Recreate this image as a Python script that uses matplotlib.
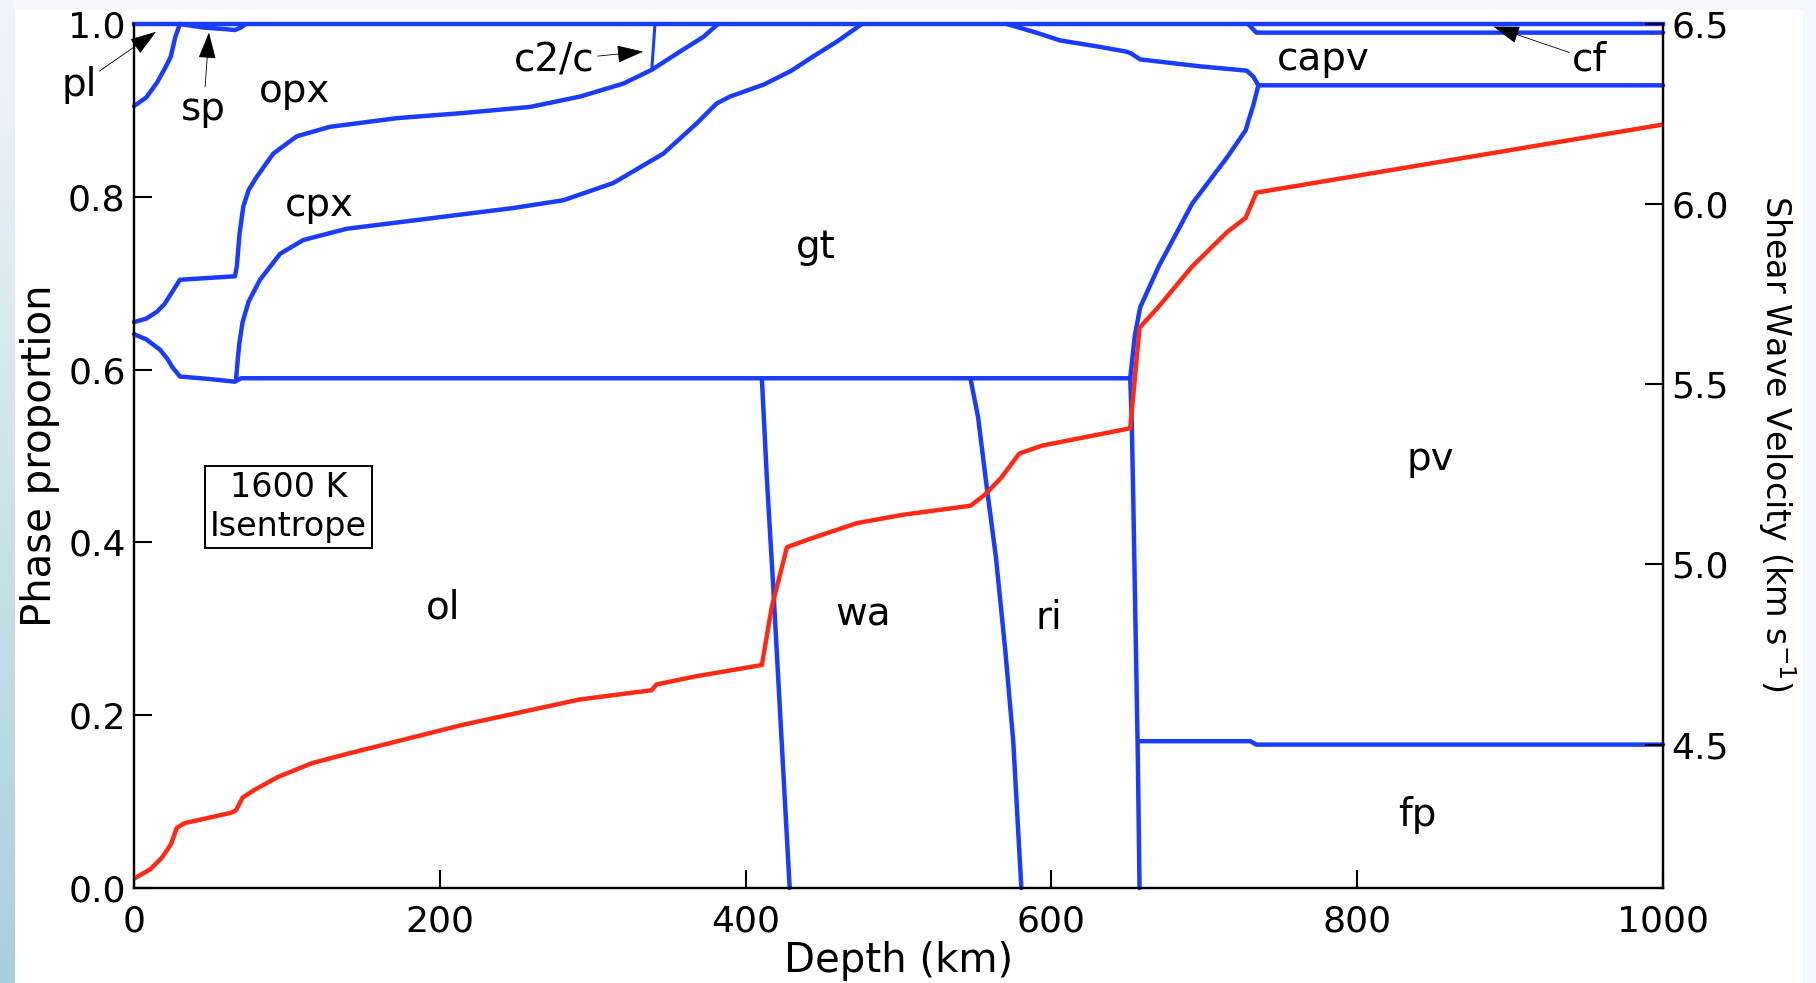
import numpy as np
import matplotlib
matplotlib.use('Agg')
import matplotlib.pyplot as plt

# phase boundaries (depth km, cumulative proportion)
pl_x = [0, 8, 15, 20, 24, 27, 30]
pl_y = [0.905, 0.915, 0.932, 0.948, 0.962, 0.985, 1.0]

sp_x = [30, 45, 60, 66, 70, 73]
sp_y = [1.0, 0.996, 0.994, 0.993, 0.996, 1.0]

opx_x = [0, 8, 15, 20, 25, 30, 66, 67.2, 69, 71.5, 75, 80.2, 91.1, 106.4, 128.2, 171.8,
         215.4, 259, 291.7, 320, 338.6, 357, 372.3, 382]
opx_y = [0.655, 0.659, 0.667, 0.676, 0.690, 0.704, 0.708, 0.719, 0.757, 0.789, 0.808,
         0.823, 0.850, 0.870, 0.881, 0.891, 0.897, 0.904, 0.916, 0.931, 0.947, 0.968,
         0.985, 1.0]

c2c_x = [340.7, 338.6]
c2c_y = [1.0, 0.947]

cpx_x = [66.7, 68, 69, 71, 75, 82.4, 95.5, 110.7, 139.1, 193.6, 248, 280.8, 313.5,
         346.2, 368, 381, 389.8, 412, 430, 442, 460, 476]
cpx_y = [0.588, 0.615, 0.632, 0.655, 0.679, 0.704, 0.734, 0.750, 0.763, 0.775, 0.787,
         0.796, 0.816, 0.850, 0.885, 0.908, 0.916, 0.930, 0.946, 0.960, 0.980, 1.0]

ol_x = [0, 8, 17, 22, 25, 30, 50, 66, 70, 200, 400, 651.5]
ol_y = [0.641, 0.635, 0.623, 0.612, 0.603, 0.592, 0.589, 0.586, 0.590, 0.590, 0.590, 0.590]

wa_x = [410.6, 414, 418, 422, 426, 428.8]
wa_y = [0.590, 0.470, 0.350, 0.220, 0.090, 0.0]

ri_x = [547, 552, 557.6, 563.6, 569.7, 575, 580.3]
ri_y = [0.590, 0.545, 0.465, 0.384, 0.277, 0.170, 0.0]

pv660_x = [651.5, 652.5, 653.5, 655, 656.5, 657.6]
pv660_y = [0.590, 0.540, 0.450, 0.300, 0.150, 0.0]

gtpv_x = [651.5, 654.5, 658, 670, 692, 715, 727, 729, 732, 735.3]
gtpv_y = [0.590, 0.639, 0.672, 0.719, 0.792, 0.846, 0.877, 0.889, 0.906, 0.929]

capv_x = [570.8, 590, 605.6, 630, 649, 652, 658, 697, 727.7, 732, 735.3, 1000]
capv_y = [1.0, 0.990, 0.981, 0.974, 0.968, 0.966, 0.959, 0.951, 0.946, 0.939, 0.929, 0.929]

cf_x = [728.6, 734, 1000]
cf_y = [1.0, 0.990, 0.990]

fp_x = [657.6, 700, 730, 734, 1000]
fp_y = [0.170, 0.170, 0.170, 0.166, 0.166]

# shear wave velocity (km/s)
vs_x = [0, 10.6, 18.2, 24.2, 28, 33, 63.6, 66.7, 71, 79, 94, 116.7, 139, 215, 291,
        338.6, 341.7, 366.7, 410.6, 417, 427, 442, 473, 503, 547, 556, 567, 579, 594,
        651.5, 657.6, 670, 692, 715, 727, 734, 1000]
vs_y = [4.128, 4.154, 4.186, 4.224, 4.269, 4.282, 4.311, 4.318, 4.353, 4.375, 4.410,
        4.449, 4.474, 4.555, 4.625, 4.651, 4.667, 4.689, 4.721, 4.880, 5.048, 5.071,
        5.115, 5.138, 5.163, 5.192, 5.240, 5.308, 5.330, 5.378, 5.657, 5.715, 5.827,
        5.923, 5.962, 6.032, 6.221]

labels = ['opx', 'cpx', 'gt', 'ol', 'wa', 'ri', 'capv', 'pv', 'fp']
label_x = [105, 121, 446, 202, 477, 598, 778, 848, 839]
label_y = [0.922, 0.790, 0.742, 0.325, 0.317, 0.313, 0.959, 0.497, 0.084]

BLUE = '#1a3cff'
RED = '#ff2a14'
plt.rcParams['font.family'] = ['DejaVu Sans']

fig = plt.figure(figsize=(18.16, 9.83), dpi=100, facecolor='#f4f8fc')
# white slide area and left gradient strip
fig.patches.append(plt.Rectangle((0.008, 0), 0.985, 0.99, transform=fig.transFigure,
                                 facecolor='white', edgecolor='none', zorder=-10))
gax = fig.add_axes([0, 0, 0.008, 1])
grad = np.linspace(0, 1, 256).reshape(-1, 1)
gax.imshow(grad, aspect='auto', cmap=matplotlib.colors.LinearSegmentedColormap.from_list(
    'g', ['#f0f6fa', '#a9cfdc']), origin='upper')
gax.axis('off')

ax = fig.add_axes([0.0738, 0.0966, 0.8420, 0.879])
ax.set_facecolor('none')
lw = 3.2
ax.plot([0, 1000], [1.0, 1.0], color=BLUE, lw=lw, clip_on=False, zorder=5)
for xs, ys in [(pl_x, pl_y), (sp_x, sp_y), (opx_x, opx_y), (cpx_x, cpx_y), (ol_x, ol_y),
               (wa_x, wa_y), (ri_x, ri_y), (pv660_x, pv660_y), (gtpv_x, gtpv_y),
               (capv_x, capv_y), (cf_x, cf_y), (fp_x, fp_y)]:
    ax.plot(xs, ys, color=BLUE, lw=lw, solid_capstyle='round', solid_joinstyle='round',
            clip_on=False)
ax.plot(c2c_x, c2c_y, color=BLUE, lw=2.2)

ax.set_xlim(0, 1000)
ax.set_ylim(0, 1.0)
ax.set_xticks([0, 200, 400, 600, 800, 1000])
ax.set_yticks([0.0, 0.2, 0.4, 0.6, 0.8, 1.0])
ax.set_yticklabels(['0.0', '0.2', '0.4', '0.6', '0.8', '1.0'])
ax.tick_params(direction='in', length=13, width=1.5, labelsize=26, pad=6)
ax.tick_params(axis='x', pad=12)
for s in ['left', 'bottom', 'right']:
    ax.spines[s].set_linewidth(1.6)
ax.spines['top'].set_visible(False)
ax.set_xlabel('Depth (km)', fontsize=29, labelpad=2)
ax.set_ylabel('Phase proportion', fontsize=29, labelpad=6)

for t, x, y in zip(labels, label_x, label_y):
    ax.text(x, y, t, fontsize=28, ha='center', va='center')

ax.text(101, 0.441, '1600 K\nIsentrope', fontsize=24, ha='center', va='center',
        linespacing=1.2,
        bbox=dict(boxstyle='square,pad=0.15', facecolor='white', edgecolor='black', lw=1.4))

arrow = dict(arrowstyle='-|>,head_length=0.6,head_width=0.2', color='black', lw=0.6,
             shrinkA=0, shrinkB=0)
ax.annotate('pl', xy=(14.4, 0.991), xytext=(-36, 0.929), fontsize=28, ha='center',
            va='center', arrowprops=arrow, annotation_clip=False)
ax.annotate('sp', xy=(49, 0.990), xytext=(45.5, 0.902), fontsize=28, ha='center',
            va='center', arrowprops=arrow)
ax.annotate('c2/c', xy=(333, 0.968), xytext=(275, 0.958), fontsize=28, ha='center',
            va='center', arrowprops=arrow)
ax.annotate('cf', xy=(889, 0.997), xytext=(952, 0.959), fontsize=28, ha='center',
            va='center', arrowprops=arrow)

ax2 = ax.twinx()
ax2.plot(vs_x, vs_y, color=RED, lw=lw, solid_joinstyle='round')
ax2.set_ylim(4.102, 6.5)
ax2.set_yticks([4.5, 5.0, 5.5, 6.0, 6.5])
ax2.set_yticklabels(['4.5', '5.0', '5.5', '6.0', '6.5'])
ax2.tick_params(direction='in', length=13, width=1.5, labelsize=26, pad=6)
for s in ['left', 'bottom', 'right']:
    ax2.spines[s].set_linewidth(1.6)
ax2.spines['top'].set_visible(False)
ax2.set_ylabel('Shear Wave Velocity (km s$^{-1}$)', fontsize=24, rotation=-90,
               labelpad=34)
ax2.yaxis.set_label_coords(1.088, 0.515)

fig.savefig('out.png', dpi=100, facecolor=fig.get_facecolor())
